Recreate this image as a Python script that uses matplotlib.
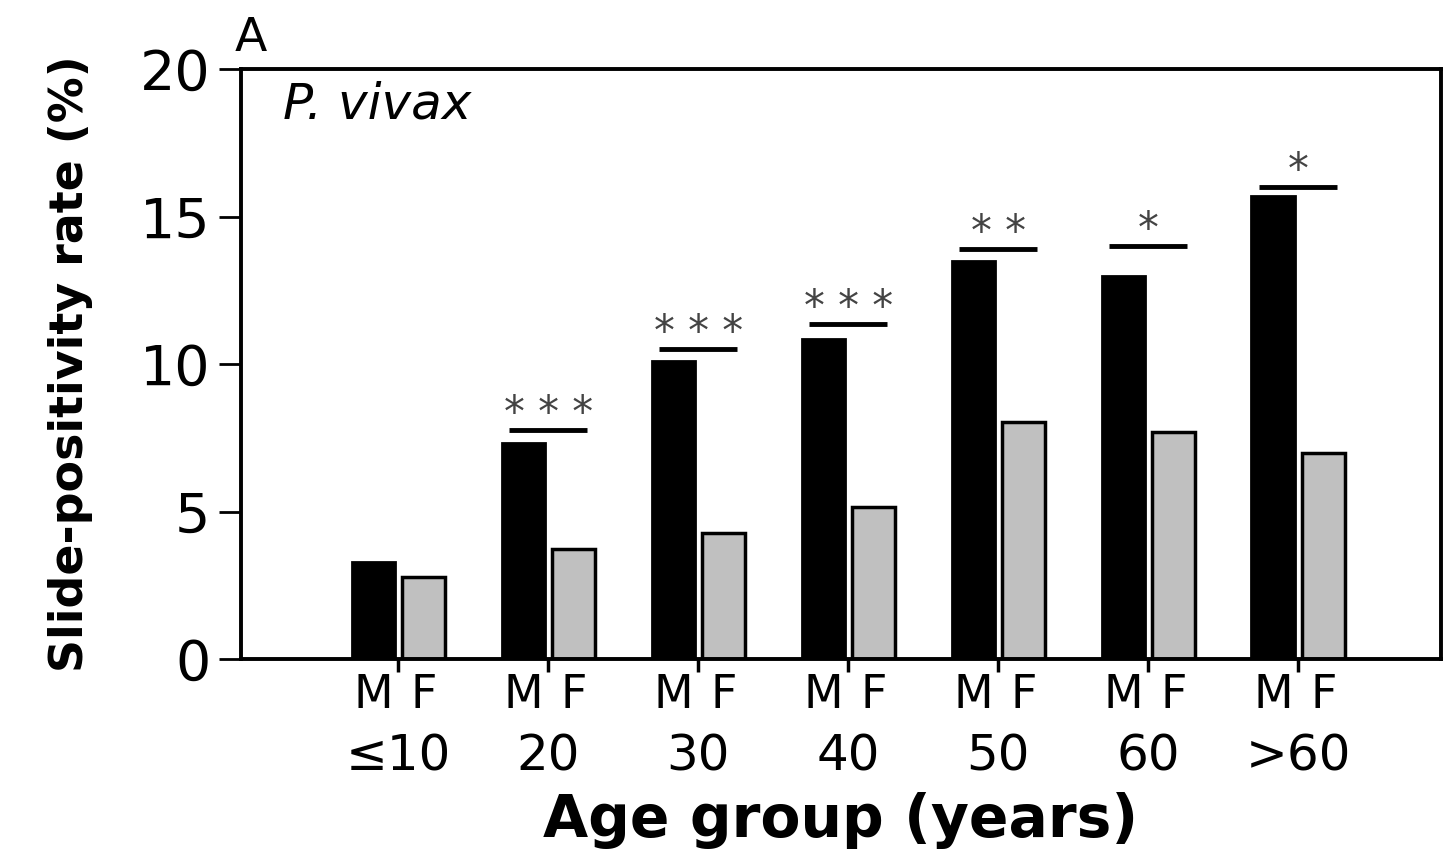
import matplotlib.pyplot as plt
import numpy as np

# data
groups = ['≤10', '20', '30', '40', '50', '60', '>60']
male = [3.28, 7.33, 10.1, 10.85, 13.5, 12.98, 15.7]
female = [2.77, 3.72, 4.27, 5.14, 8.05, 7.68, 6.97]
sig_stars = ['', '***', '***', '***', '**', '*', '*']
sig_y = [0, 7.75, 10.5, 11.35, 13.9, 14.0, 16.0]

plt.rcParams['font.family'] = ['DejaVu Sans']

fig = plt.figure(figsize=(14.49, 8.51), dpi=100)
ax = fig.add_axes([0.1663, 0.2256, 0.828, 0.6933])

x = np.arange(len(groups))
off = 0.167
w = 0.29
ax.bar(x - off, male, w, color='black', edgecolor='black', linewidth=2)
ax.bar(x + off, female, w, color='#c0c0c0', edgecolor='black', linewidth=2.5)

# significance bars
for xi, s, yy in zip(x, sig_stars, sig_y):
    if not s:
        continue
    ax.plot([xi - 0.26, xi + 0.26], [yy, yy], color='black', lw=3.5, solid_capstyle='butt')
    ax.text(xi, yy + 0.55, ' '.join(s), ha='center', va='center', fontsize=30,
            color='#444444')

ax.set_xlim(-1.05, 6.95)
ax.set_ylim(0, 20)
ax.set_yticks([0, 5, 10, 15, 20])
ax.tick_params(axis='y', direction='out', length=16, width=2, labelsize=40, pad=6)

# group ticks plus M / F labels as minor ticks
ax.set_xticks(x)
ax.set_xticklabels(groups)
ax.tick_params(axis='x', which='major', direction='out', length=9, width=2.5,
               labelsize=36, pad=44)
ax.set_xticks(np.concatenate([x - off, x + off]), minor=True)
ax.set_xticklabels(['M'] * len(x) + ['F'] * len(x), minor=True)
ax.tick_params(axis='x', which='minor', length=0, labelsize=33, pad=10)

for sp in ax.spines.values():
    sp.set_linewidth(2.8)

ax.set_ylabel('Slide-positivity rate (%)', fontsize=33, fontweight='bold', labelpad=34)
ax.set_xlabel('Age group (years)', fontsize=42, fontweight='bold', labelpad=8)

ax.text(0.035, 0.94, 'P. vivax', transform=ax.transAxes, fontsize=36,
        style='italic', ha='left', va='center')
fig.text(0.162, 0.955, 'A', fontsize=34, ha='left', va='center')

fig.savefig('out.png', dpi=100)
